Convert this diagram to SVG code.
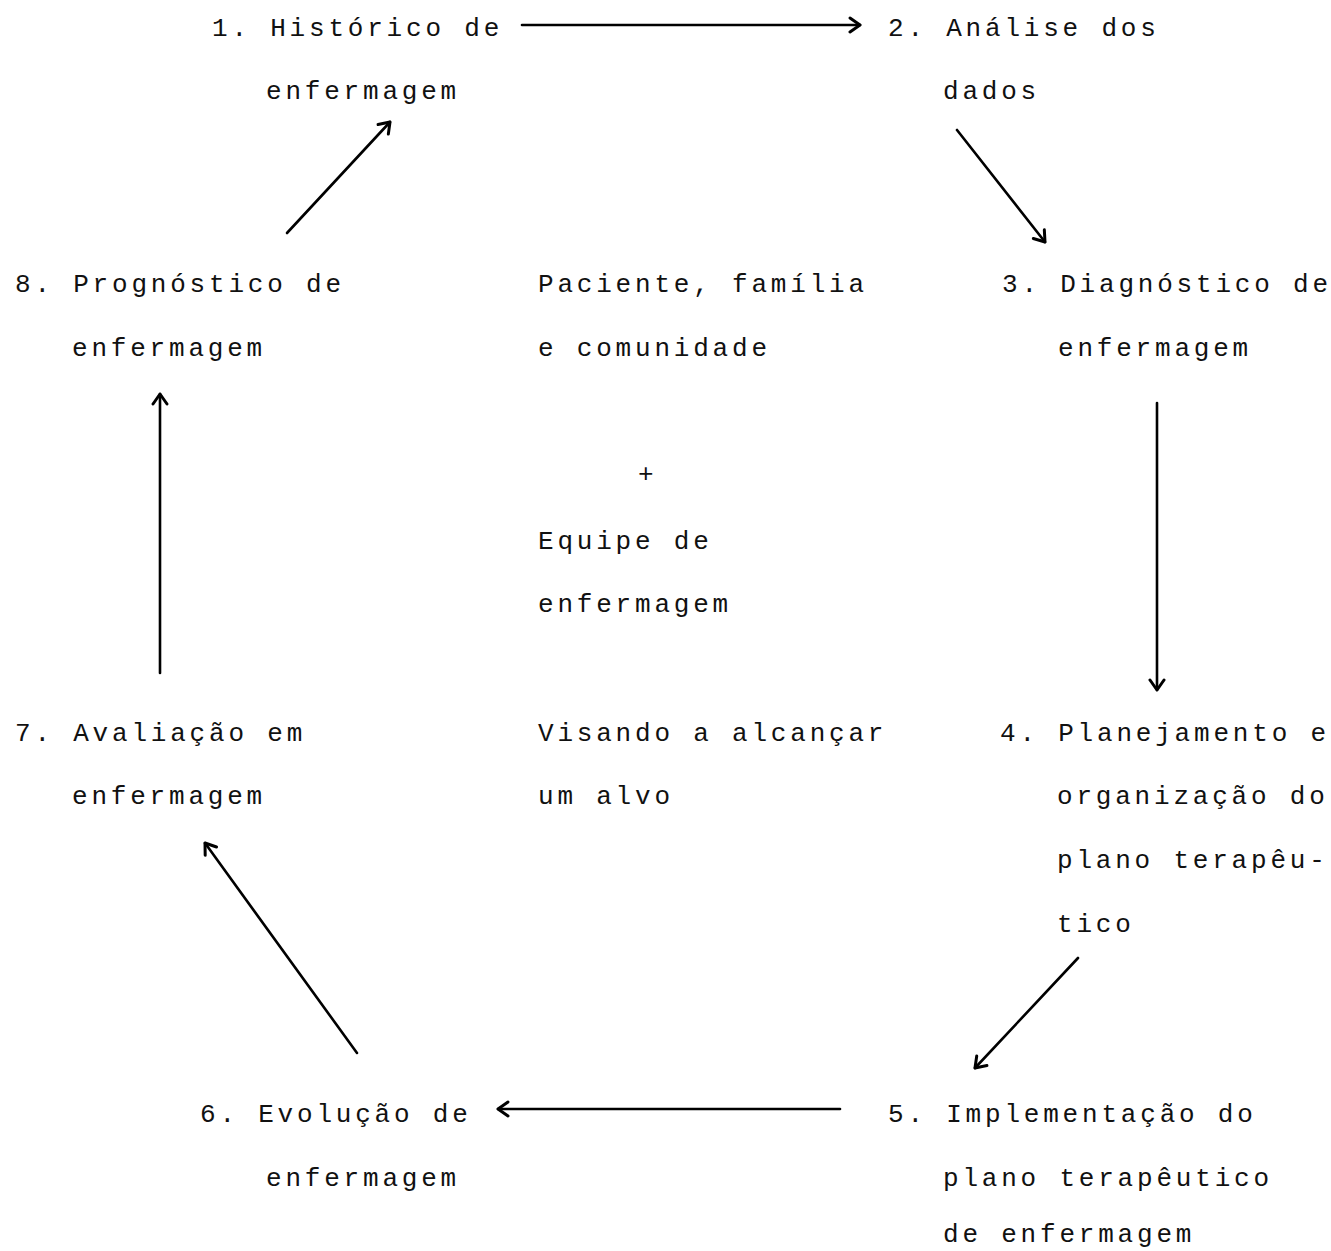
<svg xmlns="http://www.w3.org/2000/svg" width="1331" height="1251" viewBox="0 0 1331 1251">
<defs>
<style>
text{font-family:"Liberation Mono","DejaVu Sans Mono",monospace;font-size:26px;letter-spacing:3.8px;fill:#111;}
.c line{stroke:#000;stroke-width:2.6;fill:none;stroke-linecap:round;}
</style>
<marker id="ah" viewBox="0 0 20 20" refX="18" refY="10" markerWidth="20" markerHeight="20" markerUnits="userSpaceOnUse" orient="auto">
<path d="M8,3 L18,10 L8,17" fill="none" stroke="#000" stroke-width="3" stroke-linecap="round" stroke-linejoin="round"/>
</marker>
</defs>
<rect width="1331" height="1251" fill="#fff"/>
<g id="n1"><text x="212" y="36">1. Histórico de</text><text x="266" y="99">enfermagem</text></g>
<g id="n2"><text x="888" y="36">2. Análise dos</text><text x="943" y="99">dados</text></g>
<g id="n3"><text x="1002" y="292">3. Diagnóstico de</text><text x="1058" y="356">enfermagem</text></g>
<g id="n4"><text x="1000" y="741">4. Planejamento e</text><text x="1057" y="804">organização do</text><text x="1057" y="868">plano terapêu-</text><text x="1057" y="932">tico</text></g>
<g id="n5"><text x="888" y="1122">5. Implementação do</text><text x="943" y="1186">plano terapêutico</text><text x="943" y="1242">de enfermagem</text></g>
<g id="n6"><text x="200" y="1122">6. Evolução de</text><text x="266" y="1186">enfermagem</text></g>
<g id="n7"><text x="15" y="741">7. Avaliação em</text><text x="72" y="804">enfermagem</text></g>
<g id="n8"><text x="15" y="292">8. Prognóstico de</text><text x="72" y="356">enfermagem</text></g>
<g id="center"><text x="538" y="292">Paciente, família</text><text x="538" y="356">e comunidade</text><text x="638" y="482">+</text><text x="538" y="549">Equipe de</text><text x="538" y="612">enfermagem</text><text x="538" y="741">Visando a alcançar</text><text x="538" y="804">um alvo</text></g>
<g class="c" id="connectors">
<line x1="522" y1="25" x2="860" y2="25" marker-end="url(#ah)"/>
<line x1="957" y1="130" x2="1045" y2="242" marker-end="url(#ah)"/>
<line x1="1157" y1="403" x2="1157" y2="690" marker-end="url(#ah)"/>
<line x1="1078" y1="958" x2="975" y2="1068" marker-end="url(#ah)"/>
<line x1="840" y1="1109" x2="498" y2="1109" marker-end="url(#ah)"/>
<line x1="357" y1="1053" x2="205" y2="843" marker-end="url(#ah)"/>
<line x1="160" y1="673" x2="160" y2="394" marker-end="url(#ah)"/>
<line x1="287" y1="233" x2="390" y2="122" marker-end="url(#ah)"/>
</g>
</svg>
